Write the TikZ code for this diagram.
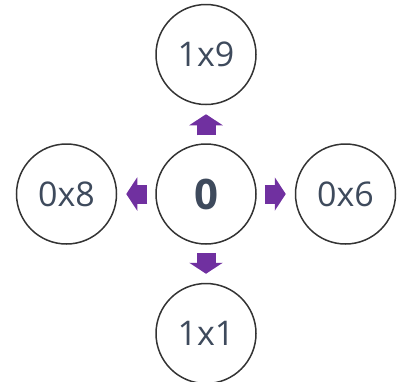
\documentclass[tikz,border=0pt]{standalone}
\usepackage{fontspec}
\setmainfont{Open Sans}
\usepackage{tikz}
\usetikzlibrary{positioning,arrows.meta}
\definecolor{ringgray}{HTML}{333333}
\definecolor{textslate}{HTML}{3E4A5C}
\definecolor{arrowpurple}{HTML}{7030A0}

\begin{document}
\begin{tikzpicture}[auto,
    cell/.style={circle, draw=ringgray, line width=1.5pt, minimum size=100pt,
                 inner sep=0pt, text=textslate, font=\fontsize{34}{38}\selectfont},
    move/.style={draw=arrowpurple, line width=19pt,
                 -{Triangle[length=11pt,width=33pt]}, arrowpurple,
                 shorten <=8pt, shorten >=9pt},
    node distance=38pt]
    \useasboundingbox (0,0) rectangle (403pt,-381pt);
    \node[cell, font=\fontsize{42}{46}\selectfont\bfseries] (0) at (206pt,-194pt) {0};
    \node[cell, above=of 0] (n) {1x9};
    \node[cell, below=of 0] (s) {1x1};
    \node[cell, left=of 0] (w) {0x8};
    \node[cell, right=of 0] (e) {0x6};
    \draw (0) edge[move] (n)
          (0) edge[move] (s)
          (0) edge[move] (w)
          (0) edge[move] (e);
  \end{tikzpicture}
\end{document}
